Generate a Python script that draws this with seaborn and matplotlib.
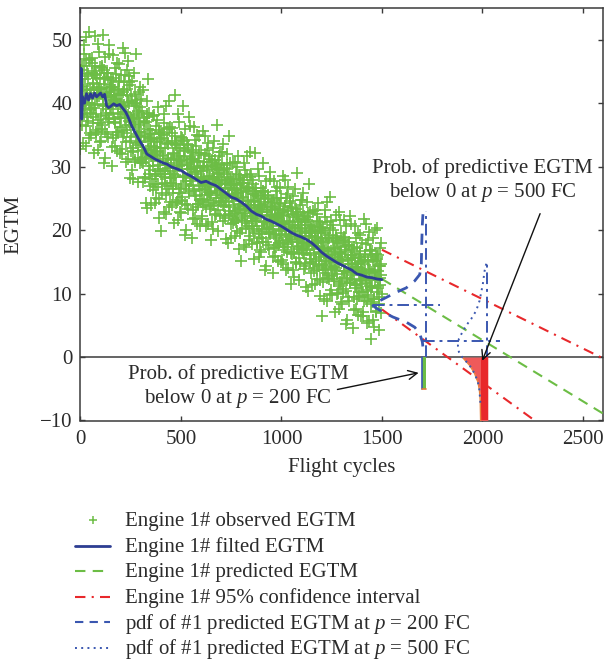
import numpy as np
import pandas as pd
import matplotlib
matplotlib.use("Agg")
import matplotlib.pyplot as plt
import seaborn as sns
from matplotlib.lines import Line2D

# ---------------- data ----------------
obs_x = [
    2, 5, 9, 12, 15, 19, 22, 25, 29, 32, 35, 39, 42, 45, 48,
    52, 55, 59, 62, 65, 69, 72, 75, 79, 82, 85, 89, 92, 95, 98,
    102, 105, 109, 112, 115, 119, 122, 125, 129, 132, 135, 139, 142, 145, 148,
    152, 155, 159, 162, 165, 169, 172, 175, 179, 182, 185, 189, 192, 195, 198,
    248, 245, 242, 239, 235, 232, 229, 225, 222, 219, 215, 212, 209, 205, 202,
    298, 295, 292, 289, 285, 282, 279, 275, 272, 269, 265, 262, 259, 255, 252,
    348, 345, 342, 339, 335, 332, 329, 325, 322, 319, 315, 312, 309, 305, 302,
    398, 395, 392, 389, 385, 382, 379, 375, 372, 369, 365, 362, 359, 355, 352,
    402, 405, 409, 412, 415, 419, 422, 425, 429, 432, 435, 439, 442, 445, 448,
    452, 455, 459, 462, 465, 469, 472, 475, 479, 482, 485, 489, 492, 495, 498,
    502, 505, 509, 512, 515, 519, 522, 525, 529, 532, 535, 539, 542, 545, 548,
    552, 555, 559, 562, 565, 569, 572, 575, 579, 582, 585, 589, 592, 595, 598,
    648, 645, 642, 639, 635, 632, 629, 625, 622, 619, 615, 612, 609, 605, 602,
    698, 695, 692, 689, 685, 682, 679, 675, 672, 669, 665, 662, 659, 655, 652,
    748, 745, 742, 739, 735, 732, 729, 725, 722, 719, 715, 712, 709, 705, 702,
    798, 795, 792, 789, 785, 782, 779, 775, 772, 769, 765, 762, 759, 755, 752,
    802, 805, 809, 812, 815, 819, 822, 825, 829, 832, 835, 839, 842, 845, 848,
    852, 855, 859, 862, 865, 869, 872, 875, 879, 882, 885, 889, 892, 895, 898,
    902, 905, 909, 912, 915, 919, 922, 925, 929, 932, 935, 939, 942, 945, 948,
    952, 955, 959, 962, 965, 969, 972, 975, 979, 982, 985, 989, 992, 995, 998,
    1048, 1045, 1042, 1039, 1035, 1032, 1029, 1025, 1022, 1019, 1015, 1012, 1009, 1005, 1002,
    1098, 1095, 1092, 1089, 1085, 1082, 1079, 1075, 1072, 1069, 1065, 1062, 1059, 1055, 1052,
    1148, 1145, 1142, 1139, 1135, 1132, 1129, 1125, 1122, 1119, 1115, 1112, 1109, 1105, 1102,
    1198, 1195, 1192, 1189, 1185, 1182, 1179, 1175, 1172, 1169, 1165, 1162, 1159, 1155, 1152,
    1202, 1205, 1209, 1212, 1215, 1219, 1222, 1225, 1229, 1232, 1235, 1239, 1242, 1245, 1248,
    1252, 1255, 1259, 1262, 1265, 1269, 1272, 1275, 1279, 1282, 1285, 1289, 1292, 1295, 1298,
    1302, 1305, 1309, 1312, 1315, 1319, 1322, 1325, 1329, 1332, 1335, 1339, 1342, 1345, 1348,
    1352, 1355, 1359, 1362, 1365, 1369, 1372, 1375, 1379, 1382, 1385, 1389, 1392, 1395, 1398,
    1448, 1445, 1442, 1439, 1435, 1432, 1429, 1425, 1422, 1419, 1415, 1412, 1409, 1405, 1402,
    1498, 1495, 1492, 1489, 1485, 1482, 1479, 1475, 1472, 1469, 1465, 1462, 1459, 1455, 1452,
    47, 44, 40, 37, 34, 30, 27, 24, 20, 17, 14, 10, 7, 3, 0,
    97, 94, 90, 87, 84, 80, 77, 74, 70, 67, 64, 60, 57, 53, 50,
    147, 144, 140, 137, 134, 130, 127, 124, 120, 117, 114, 110, 107, 103, 100,
    197, 194, 190, 187, 184, 180, 177, 174, 170, 167, 164, 160, 157, 153, 150,
    200, 203, 207, 210, 214, 217, 220, 224, 227, 230, 234, 237, 240, 244, 247,
    250, 253, 257, 260, 264, 267, 270, 274, 277, 280, 284, 287, 290, 294, 297,
    300, 303, 307, 310, 314, 317, 320, 324, 327, 330, 334, 337, 340, 344, 347,
    350, 353, 357, 360, 364, 367, 370, 374, 377, 380, 384, 387, 390, 394, 397,
    447, 444, 440, 437, 434, 430, 427, 424, 420, 417, 414, 410, 407, 403, 400,
    497, 494, 490, 487, 484, 480, 477, 474, 470, 467, 464, 460, 457, 453, 450,
    547, 544, 540, 537, 534, 530, 527, 524, 520, 517, 514, 510, 507, 503, 500,
    597, 594, 590, 587, 584, 580, 577, 574, 570, 567, 564, 560, 557, 553, 550,
    600, 603, 607, 610, 614, 617, 620, 624, 627, 630, 634, 637, 640, 644, 647,
    650, 653, 657, 660, 664, 667, 670, 674, 677, 680, 684, 687, 690, 694, 697,
    700, 703, 707, 710, 714, 717, 720, 724, 727, 730, 734, 737, 740, 744, 747,
    750, 753, 757, 760, 764, 767, 770, 774, 777, 780, 784, 787, 790, 794, 797,
    847, 844, 840, 837, 834, 830, 827, 824, 820, 817, 814, 810, 807, 803, 800,
    897, 894, 890, 887, 884, 880, 877, 874, 870, 867, 864, 860, 857, 853, 850,
    947, 944, 940, 937, 934, 930, 927, 924, 920, 917, 914, 910, 907, 903, 900,
    997, 994, 990, 987, 984, 980, 977, 974, 970, 967, 964, 960, 957, 953, 950,
    1000, 1003, 1007, 1010, 1014, 1017, 1020, 1024, 1027, 1030, 1034, 1037, 1040, 1044, 1047,
    1050, 1053, 1057, 1060, 1064, 1067, 1070, 1074, 1077, 1080, 1084, 1087, 1090, 1094, 1097,
    1100, 1103, 1107, 1110, 1114, 1117, 1120, 1124, 1127, 1130, 1134, 1137, 1140, 1144, 1147,
    1150, 1153, 1157, 1160, 1164, 1167, 1170, 1174, 1177, 1180, 1184, 1187, 1190, 1194, 1197,
    1247, 1244, 1240, 1237, 1234, 1230, 1227, 1224, 1220, 1217, 1214, 1210, 1207, 1203, 1200,
    1297, 1294, 1290, 1287, 1284, 1280, 1277, 1274, 1270, 1267, 1264, 1260, 1257, 1253, 1250,
    1347, 1344, 1340, 1337, 1334, 1330, 1327, 1324, 1320, 1317, 1314, 1310, 1307, 1303, 1300,
    1397, 1394, 1390, 1387, 1384, 1380, 1377, 1374, 1370, 1367, 1364, 1360, 1357, 1353, 1350,
    1400, 1403, 1407, 1410, 1414, 1417, 1420, 1424, 1427, 1430, 1434, 1437, 1440, 1444, 1447,
    1450, 1453, 1457, 1460, 1464, 1467, 1470, 1474, 1477, 1480, 1484, 1487, 1490, 1494, 1497,
    1, 6, 11, 16, 21, 26, 31, 36, 41, 46,
    51, 56, 61, 66, 71, 76, 81, 86, 91, 96,
    146, 141, 136, 131, 126, 121, 116, 111, 106, 101,
    196, 191, 186, 181, 176, 171, 166, 161, 156, 151,
    201, 206, 211, 216, 221, 226, 231, 236, 241, 246,
    251, 256, 261, 266, 271, 276, 281, 286, 291, 296,
    346, 341, 336, 331, 326, 321, 316, 311, 306, 301,
    396, 391, 386, 381, 376, 371, 366, 361, 356, 351,
    401, 406, 411, 416, 421, 426, 431, 436, 441, 446,
    451, 456, 461, 466, 471, 476, 481, 486, 491, 496,
    546, 541, 536, 531, 526, 521, 516, 511, 506, 501,
    596, 591, 586, 581, 576, 571, 566, 561, 556, 551,
    601, 606, 611, 616, 621, 626, 631, 636, 641, 646,
    651, 656, 661, 666, 671, 676, 681, 686, 691, 696,
    746, 741, 736, 731, 726, 721, 716, 711, 706, 701,
    796, 791, 786, 781, 776, 771, 766, 761, 756, 751,
    801, 806, 811, 816, 821, 826, 831, 836, 841, 846,
    851, 856, 861, 866, 871, 876, 881, 886, 891, 896,
    946, 941, 936, 931, 926, 921, 916, 911, 906, 901,
    996, 991, 986, 981, 976, 971, 966, 961, 956, 951,
    1001, 1006, 1011, 1016, 1021, 1026, 1031, 1036, 1041, 1046,
    1051, 1056, 1061, 1066, 1071, 1076, 1081, 1086, 1091, 1096,
    1146, 1141, 1136, 1131, 1126, 1121, 1116, 1111, 1106, 1101,
    1196, 1191, 1186, 1181, 1176, 1171, 1166, 1161, 1156, 1151,
    1201, 1206, 1211, 1216, 1221, 1226, 1231, 1236, 1241, 1246,
    1251, 1256, 1261, 1266, 1271, 1276, 1281, 1286, 1291, 1296,
    1346, 1341, 1336, 1331, 1326, 1321, 1316, 1311, 1306, 1301,
    1396, 1391, 1386, 1381, 1376, 1371, 1366, 1361, 1356, 1351,
    1401, 1406, 1411, 1416, 1421, 1426, 1431, 1436, 1441, 1446,
    1451, 1456, 1461, 1466, 1471, 1476, 1481, 1486, 1491, 1496,
]
obs_y = [
    45.3, 36.6, 42.5, 39.7, 49.1, 38.3, 43.8, 33.3, 46.9, 41.1, 44.6, 37.2, 51.2, 35.3, 42.0,
    38.4, 47.1, 39.9, 43.0, 32.1, 45.0, 39.7, 44.4, 35.5, 41.2, 49.3, 37.4, 42.4, 33.9, 45.7,
    42.2, 36.5, 45.5, 39.8, 43.0, 30.5, 47.3, 38.2, 41.6, 35.2, 44.2, 37.5, 49.1, 39.5, 42.4,
    39.1, 42.6, 33.1, 44.0, 37.5, 40.5, 45.6, 35.0, 41.3, 32.4, 42.3, 38.3, 46.2, 36.2, 39.8,
    42.8, 34.1, 40.0, 37.2, 46.6, 35.8, 41.3, 30.8, 44.4, 38.6, 42.1, 34.7, 48.7, 32.8, 39.5,
    33.9, 42.6, 35.4, 38.5, 27.6, 40.5, 35.2, 39.9, 31.0, 36.7, 44.8, 32.9, 37.9, 29.4, 41.2,
    35.2, 29.5, 38.5, 32.8, 36.0, 23.5, 40.3, 31.2, 34.6, 28.2, 37.2, 30.5, 42.1, 32.5, 35.4,
    30.9, 34.4, 24.9, 35.8, 29.3, 32.3, 37.4, 26.8, 33.1, 24.2, 34.1, 30.1, 38.0, 28.0, 31.6,
    34.5, 25.8, 31.7, 28.9, 38.3, 27.5, 33.0, 22.5, 36.1, 30.3, 33.8, 26.4, 40.4, 24.5, 31.2,
    27.4, 36.1, 28.9, 32.0, 21.1, 34.0, 28.7, 33.4, 24.5, 30.2, 38.3, 26.4, 31.4, 22.9, 34.7,
    30.9, 25.2, 34.2, 28.5, 31.7, 19.2, 36.0, 26.9, 30.3, 23.9, 32.9, 26.2, 37.8, 28.2, 31.1,
    27.7, 31.2, 21.7, 32.6, 26.1, 29.1, 34.2, 23.6, 29.9, 21.0, 30.9, 26.9, 34.8, 24.8, 28.4,
    30.7, 23.4, 28.3, 26.0, 33.8, 24.8, 29.4, 20.7, 32.0, 27.2, 30.1, 23.9, 35.6, 22.3, 27.9,
    25.0, 32.3, 26.3, 28.9, 19.8, 30.5, 26.1, 30.0, 22.6, 27.4, 34.1, 24.2, 28.4, 21.3, 31.1,
    27.7, 23.0, 30.5, 25.7, 28.4, 18.0, 32.0, 24.4, 27.2, 21.9, 29.4, 23.8, 33.5, 25.5, 27.9,
    24.6, 27.5, 19.6, 28.7, 23.3, 25.8, 30.0, 21.2, 26.4, 19.0, 27.3, 23.9, 30.5, 22.2, 25.2,
    27.4, 20.1, 25.0, 22.7, 30.5, 21.5, 26.1, 17.4, 28.7, 23.9, 26.8, 20.6, 32.3, 19.0, 24.6,
    20.6, 27.9, 21.9, 24.5, 15.4, 26.1, 21.7, 25.6, 18.2, 23.0, 29.7, 19.8, 24.0, 16.9, 26.7,
    23.4, 18.7, 26.2, 21.4, 24.1, 13.7, 27.7, 20.1, 22.9, 17.6, 25.1, 19.5, 29.2, 21.2, 23.6,
    20.7, 23.6, 15.7, 24.8, 19.4, 21.9, 26.1, 17.3, 22.5, 15.1, 23.4, 20.0, 26.6, 18.3, 21.3,
    23.7, 16.4, 21.3, 19.0, 26.8, 17.8, 22.4, 13.7, 25.0, 20.2, 23.1, 16.9, 28.6, 15.3, 20.9,
    17.4, 24.7, 18.7, 21.3, 12.2, 22.9, 18.5, 22.4, 15.0, 19.8, 26.5, 16.6, 20.8, 13.7, 23.5,
    20.1, 15.4, 22.9, 18.1, 20.8, 10.4, 24.4, 16.8, 19.6, 14.3, 21.8, 16.2, 25.9, 17.9, 20.3,
    17.1, 20.0, 12.1, 21.2, 15.8, 18.3, 22.5, 13.7, 18.9, 11.5, 19.8, 16.4, 23.0, 14.7, 17.7,
    19.8, 11.8, 17.2, 14.7, 23.2, 13.3, 18.4, 8.8, 21.3, 16.0, 19.2, 12.3, 25.2, 10.6, 16.7,
    12.8, 20.8, 14.2, 17.1, 7.1, 18.8, 14.0, 18.3, 10.1, 15.4, 22.8, 11.9, 16.5, 8.7, 19.5,
    15.8, 10.7, 18.9, 13.6, 16.6, 5.2, 20.6, 12.2, 15.3, 9.5, 17.7, 11.6, 22.2, 13.4, 16.1,
    12.9, 16.0, 7.4, 17.4, 11.4, 14.2, 18.8, 9.1, 14.8, 6.7, 15.8, 12.1, 19.3, 10.2, 13.5,
    16.3, 8.3, 13.7, 11.2, 19.7, 9.8, 14.9, 5.3, 17.8, 12.5, 15.7, 8.8, 21.7, 7.1, 13.2,
    10.0, 18.0, 11.4, 14.3, 4.3, 16.0, 11.2, 15.5, 7.3, 12.6, 20.0, 9.1, 13.7, 5.9, 16.7,
    47.0, 40.1, 34.5, 44.3, 42.2, 37.8, 50.4, 41.0, 39.1, 47.7, 33.7, 42.7, 45.9, 39.6, 32.8,
    36.9, 42.1, 48.0, 32.6, 44.0, 40.8, 35.2, 44.6, 50.6, 39.3, 43.2, 37.9, 46.3, 35.0, 41.6,
    40.9, 47.7, 37.7, 34.6, 44.7, 41.8, 38.5, 31.3, 44.0, 45.3, 39.7, 50.8, 35.9, 41.5, 34.0,
    32.1, 41.5, 43.3, 39.6, 35.5, 46.4, 40.2, 36.8, 33.3, 42.1, 47.6, 38.5, 30.1, 43.7, 41.1,
    44.5, 37.6, 32.0, 41.8, 39.7, 35.3, 47.9, 38.5, 36.6, 45.2, 31.2, 40.2, 43.4, 37.1, 28.2,
    32.4, 37.6, 43.5, 28.1, 39.5, 36.3, 30.7, 40.1, 47.8, 34.8, 38.7, 33.4, 41.8, 30.5, 37.1,
    33.9, 40.7, 30.7, 27.6, 37.7, 34.8, 31.5, 24.3, 37.0, 38.3, 32.7, 43.8, 28.9, 34.5, 27.0,
    23.9, 33.3, 35.1, 31.4, 27.3, 38.2, 32.0, 28.6, 25.1, 33.9, 39.4, 30.3, 21.9, 35.5, 32.9,
    36.2, 29.3, 23.7, 33.5, 31.4, 27.0, 39.6, 30.2, 28.3, 36.9, 22.9, 31.9, 35.1, 28.8, 19.9,
    25.9, 31.1, 37.0, 21.6, 33.0, 29.8, 24.2, 33.6, 41.3, 28.3, 32.2, 26.9, 35.3, 24.0, 30.6,
    29.6, 36.4, 26.4, 23.3, 33.4, 30.5, 27.2, 20.0, 32.7, 34.0, 28.4, 39.5, 24.6, 30.2, 22.7,
    20.7, 30.1, 31.9, 28.2, 24.1, 35.0, 28.8, 25.4, 21.9, 30.7, 36.2, 27.1, 18.7, 32.3, 29.7,
    32.1, 26.3, 21.7, 29.8, 28.1, 24.4, 34.9, 27.1, 25.5, 32.7, 21.0, 28.5, 31.2, 25.9, 18.5,
    23.8, 28.1, 33.0, 20.2, 29.7, 27.0, 22.4, 30.2, 36.6, 25.8, 29.0, 24.6, 31.6, 22.2, 27.7,
    26.6, 32.3, 24.0, 21.4, 29.8, 27.4, 24.6, 18.6, 29.2, 30.3, 25.6, 34.9, 22.5, 27.1, 20.9,
    18.8, 26.6, 28.1, 25.0, 21.6, 30.7, 25.5, 22.7, 19.8, 27.1, 31.7, 24.1, 17.1, 28.4, 26.3,
    28.8, 23.0, 18.4, 26.5, 24.8, 21.1, 31.6, 23.8, 22.2, 29.4, 17.7, 25.2, 27.9, 22.6, 15.2,
    19.4, 23.7, 28.6, 15.8, 25.3, 22.6, 18.0, 25.8, 32.2, 21.4, 24.6, 20.2, 27.2, 17.8, 23.3,
    22.3, 28.0, 19.7, 17.1, 25.5, 23.1, 20.3, 14.3, 24.9, 26.0, 21.3, 30.6, 18.2, 22.8, 16.6,
    14.9, 22.7, 24.2, 21.1, 17.7, 26.8, 21.6, 18.8, 15.9, 23.2, 27.8, 20.2, 13.2, 24.5, 22.4,
    25.1, 19.3, 14.7, 22.8, 21.1, 17.4, 27.9, 20.1, 18.5, 25.7, 14.0, 21.5, 24.2, 18.9, 11.5,
    16.2, 20.5, 25.4, 12.6, 22.1, 19.4, 14.8, 22.6, 29.0, 18.2, 21.4, 17.0, 24.0, 14.6, 20.1,
    19.0, 24.7, 16.4, 13.8, 22.2, 19.8, 17.0, 11.0, 21.6, 22.7, 18.0, 27.3, 14.9, 19.5, 13.3,
    11.3, 19.1, 20.6, 17.5, 14.1, 23.2, 18.0, 15.2, 12.3, 19.6, 24.2, 16.6, 9.6, 20.9, 18.8,
    21.4, 15.0, 9.9, 18.8, 17.0, 12.9, 24.4, 15.9, 14.1, 22.0, 9.2, 17.4, 20.4, 14.5, 6.4,
    11.5, 16.2, 21.6, 7.5, 18.0, 15.0, 9.9, 18.5, 22.4, 13.7, 17.2, 12.3, 20.0, 9.7, 15.8,
    14.6, 20.9, 11.8, 8.9, 18.2, 15.5, 12.4, 5.8, 17.5, 18.7, 13.5, 21.6, 10.1, 15.2, 8.4,
    6.5, 15.1, 16.7, 13.3, 9.6, 19.6, 13.8, 10.8, 7.6, 15.6, 20.7, 12.3, 4.6, 17.0, 14.7,
    17.9, 11.5, 6.4, 15.3, 13.5, 9.4, 20.9, 12.4, 10.6, 18.5, 5.7, 13.9, 16.9, 11.0, 2.9,
    8.7, 13.4, 18.8, 4.7, 15.2, 12.2, 7.1, 15.7, 20.3, 10.9, 14.4, 9.5, 17.2, 6.9, 13.0,
    43.8, 38.1, 42.0, 45.8, 40.1, 36.4, 44.8, 40.6, 46.8, 39.0,
    39.2, 44.8, 36.8, 42.0, 45.9, 38.3, 42.6, 35.8, 41.1, 43.9,
    42.8, 37.1, 41.0, 44.8, 39.1, 35.4, 43.8, 39.6, 45.8, 38.0,
    37.9, 43.5, 35.5, 40.7, 44.6, 37.0, 41.3, 34.5, 39.8, 42.6,
    41.3, 35.6, 39.5, 43.3, 37.6, 33.9, 42.3, 38.1, 44.3, 36.5,
    34.7, 40.3, 32.3, 37.5, 41.4, 33.8, 38.1, 31.3, 36.6, 39.4,
    35.8, 30.1, 34.0, 37.8, 32.1, 28.4, 36.8, 32.6, 38.8, 31.0,
    29.7, 35.3, 27.3, 32.5, 36.4, 28.8, 33.1, 26.3, 31.6, 34.4,
    33.0, 27.3, 31.2, 35.0, 29.3, 25.6, 34.0, 29.8, 36.0, 28.2,
    28.2, 33.8, 25.8, 31.0, 34.9, 27.3, 31.6, 24.8, 30.1, 32.9,
    31.5, 25.8, 29.7, 33.5, 27.8, 24.1, 32.5, 28.3, 34.5, 26.7,
    26.5, 32.1, 24.1, 29.3, 33.2, 25.6, 29.9, 23.1, 28.4, 31.2,
    29.3, 24.9, 27.9, 30.8, 26.4, 23.6, 30.0, 26.8, 31.6, 25.6,
    25.8, 30.1, 24.0, 28.0, 31.0, 25.1, 28.4, 23.2, 27.3, 29.4,
    28.1, 23.7, 26.7, 29.6, 25.2, 22.4, 28.8, 25.6, 30.4, 24.4,
    23.7, 28.0, 21.9, 25.9, 28.9, 23.0, 26.3, 21.1, 25.2, 27.3,
    26.0, 21.6, 24.6, 27.5, 23.1, 20.3, 26.7, 23.5, 28.3, 22.3,
    21.4, 25.7, 19.6, 23.6, 26.6, 20.7, 24.0, 18.8, 22.9, 25.0,
    23.8, 19.4, 22.4, 25.3, 20.9, 18.1, 24.5, 21.3, 26.1, 20.1,
    19.8, 24.1, 18.0, 22.0, 25.0, 19.1, 22.4, 17.2, 21.3, 23.4,
    22.3, 17.9, 20.9, 23.8, 19.4, 16.6, 23.0, 19.8, 24.6, 18.6,
    18.2, 22.5, 16.4, 20.4, 23.4, 17.5, 20.8, 15.6, 19.7, 21.8,
    20.5, 16.1, 19.1, 22.0, 17.6, 14.8, 21.2, 18.0, 22.8, 16.8,
    16.2, 20.5, 14.4, 18.4, 21.4, 15.5, 18.8, 13.6, 17.7, 19.8,
    18.1, 13.7, 16.7, 19.6, 15.2, 12.4, 18.8, 15.6, 20.4, 14.4,
    13.8, 18.1, 12.0, 16.0, 19.0, 13.1, 16.4, 11.2, 15.3, 17.4,
    16.1, 11.7, 14.7, 17.6, 13.2, 10.4, 16.8, 13.6, 18.4, 12.4,
    12.0, 16.3, 10.2, 14.2, 17.2, 11.3, 14.6, 9.4, 13.5, 15.6,
    14.6, 10.2, 13.2, 16.1, 11.7, 8.9, 15.3, 12.1, 16.9, 10.9,
    11.0, 15.3, 9.2, 13.2, 16.2, 10.3, 13.6, 8.4, 12.5, 14.6,
]

filt_x = [0, 3, 6, 10, 20, 30, 40, 50, 60, 70, 80, 90, 100, 110, 120, 130, 140, 150,
          165, 180, 195, 210, 225, 240, 255, 270, 285, 300, 315, 330, 350, 370, 390,
          410, 430, 450, 475, 500, 525, 550, 575, 600, 625, 650, 675, 700, 725, 750,
          775, 800, 825, 850, 875, 900, 925, 950, 975, 1000, 1025, 1050, 1075, 1100,
          1125, 1150, 1175, 1200, 1225, 1250, 1275, 1300, 1325, 1350, 1375, 1400,
          1425, 1450, 1475, 1500]
filt_y = [38.0, 45.5, 37.5, 41.0, 40.0, 41.5, 40.5, 41.5, 40.8, 41.6, 41.0, 41.3, 41.6,
          41.0, 41.4, 39.6, 39.3, 39.5, 39.9, 39.6, 39.8, 39.2, 38.6, 37.6, 36.4, 35.5,
          34.6, 33.8, 33.0, 32.0, 31.6, 31.2, 30.9, 30.6, 30.4, 30.0, 29.7, 29.4, 28.9,
          28.5, 28.0, 27.5, 27.7, 27.3, 27.0, 26.4, 25.8, 25.2, 24.9, 24.4, 23.8, 23.0,
          22.5, 22.2, 21.7, 21.4, 21.0, 20.6, 20.1, 19.6, 19.2, 18.9, 18.5, 18.0, 17.3,
          16.5, 15.9, 15.4, 14.9, 14.5, 14.1, 13.7, 13.1, 12.9, 12.6, 12.5, 12.3, 12.2]

pred_x = [1500, 2600]
pred_y = [12.3, -8.9]
ci_up_x = [1500, 2600]
ci_up_y = [16.9, -0.2]
ci_lo_x = [1500, 2260]
ci_lo_y = [7.5, -10.0]

# pdf at p = 200 FC (curve drawn sideways from baseline FC = 1721)
pdf200_fc = [1704, 1701, 1698, 1696, 1688, 1663, 1621, 1571, 1522, 1472, 1455, 1472,
             1505, 1555, 1621, 1663, 1688, 1701, 1706]
pdf200_egtm = [22.5, 20.9, 17.8, 14.7, 13.0, 12.0, 10.9, 10.2, 9.4, 8.6, 8.1, 7.7,
               7.1, 6.3, 5.5, 4.7, 3.7, 2.4, 1.0]
pdf200_base_fc = 1721
pdf200_vert = [0.0, 23.0]
pdf200_mean = 8.2
pdf200_hspan = [1455, 1790]
pdf200_tail_fc = [1699, 1721]
pdf200_tail_egtm = [-5.0, 0.0]

# pdf at p = 500 FC (baseline FC = 2022)
pdf500_fc = [2019, 2011, 2002, 1986, 1969, 1944, 1920, 1900, 1883, 1878, 1883, 1899,
             1936, 1961, 1977, 1985, 1990]
pdf500_egtm = [14.7, 13.6, 11.5, 8.9, 7.3, 6.0, 5.0, 3.9, 2.9, 1.8, 0.8, 0.0,
               -1.3, -2.6, -3.9, -5.2, -7.3]
pdf500_base_fc = 2022
pdf500_vert = [0.0, 14.7]
pdf500_mean = 2.45
pdf500_hspan = [1704, 2087]
tail500_egtm = [0.0, -1.3, -2.6, -3.9, -5.2, -6.8, -10.0]
tail500_fc = [1899, 1936, 1961, 1977, 1985, 1989, 1991]
bar500_fc = [1991, 2027]

legend_labels = [
    "Engine 1# observed EGTM",
    "Engine 1# filted EGTM",
    "Engine 1# predicted EGTM",
    "Engine 1# 95% confidence interval",
    "pdf of #1 predicted EGTM at $p$ = 200 FC",
    "pdf of #1 predicted EGTM at $p$ = 500 FC",
]

# ---------------- style ----------------
sns.set_theme(style="ticks")
plt.rcParams['font.family'] = ['Liberation Serif', 'DejaVu Serif']
plt.rcParams['mathtext.fontset'] = 'custom'
plt.rcParams['mathtext.rm'] = 'Liberation Serif'
plt.rcParams['mathtext.it'] = 'Liberation Serif:italic'
plt.rcParams['axes.unicode_minus'] = True

TXT = '#2b2b2b'
GREEN = '#6cbd45'
BLUE_F = '#2d3d92'
BLUE_P = '#3a57b0'
RED = '#e8282b'
FS = 15
W, H = 604, 662

fig = plt.figure(figsize=(W / 100, H / 100), dpi=100)
ax = fig.add_axes([80.5 / W, 1 - 420.5 / H, 522.5 / W, 412.5 / H])

obs = pd.DataFrame({"fc": obs_x, "egtm": obs_y})
sns.scatterplot(data=obs, x="fc", y="egtm", marker="+", s=70, color=GREEN,
                linewidth=1.2, ax=ax, zorder=2)
filt = pd.DataFrame({"fc": filt_x, "egtm": filt_y})
sns.lineplot(data=filt, x="fc", y="egtm", color=BLUE_F, lw=2.0, ax=ax,
             estimator=None, zorder=4)

DASH_G = (0, (5, 3.5))
DASHDOT_R = (0, (5, 3, 1, 3))
DASH_B = (0, (4, 3))
DOT_B = (0, (1, 2.2))
ax.plot(pred_x, pred_y, color=GREEN, lw=1.5, ls=DASH_G, zorder=3)
ax.plot(ci_up_x, ci_up_y, color=RED, lw=1.5, ls=DASHDOT_R, zorder=3)
ax.plot(ci_lo_x, ci_lo_y, color=RED, lw=1.5, ls=DASHDOT_R, zorder=3)

dashdot = (0, (6, 2.5, 1.5, 2.5))
# pdf 200
ax.plot([pdf200_base_fc, pdf200_base_fc], pdf200_vert, color=BLUE_P, lw=1.4, ls=dashdot, zorder=5)
ax.plot(pdf200_hspan, [pdf200_mean, pdf200_mean], color=BLUE_P, lw=1.4, ls=dashdot, zorder=5)
ax.plot(pdf200_fc, pdf200_egtm, color=BLUE_P, lw=2.0, ls=DASH_B, zorder=5)
ax.fill_betweenx(pdf200_tail_egtm, pdf200_tail_fc[0], pdf200_tail_fc[1], color=GREEN, lw=0, zorder=5)
ax.plot([pdf200_tail_fc[0], pdf200_tail_fc[0]], pdf200_tail_egtm, color=BLUE_P, lw=1.2, zorder=6)
ax.plot([pdf200_tail_fc[0], pdf200_tail_fc[1]], [-5.0, -5.0], color='#e07a3a', lw=1.2, zorder=6)

# pdf 500
ax.plot([pdf500_base_fc, pdf500_base_fc], pdf500_vert, color=BLUE_P, lw=1.4, ls=dashdot, zorder=5)
ax.plot(pdf500_hspan, [pdf500_mean, pdf500_mean], color=BLUE_P, lw=1.4, ls=dashdot, zorder=5)
ax.fill_betweenx(tail500_egtm, tail500_fc, bar500_fc[1], color='#ef5a5a', lw=0, zorder=5)
ax.fill_betweenx([-10, 0], bar500_fc[0], bar500_fc[1], color=RED, lw=0, zorder=5)
ax.plot(tail500_fc, tail500_egtm, color='#e8803c', lw=1.0, zorder=6)
ax.plot(pdf500_fc, pdf500_egtm, color=BLUE_P, lw=1.4, ls=DOT_B, zorder=6)

ax.axhline(0, color='#3a3a3a', lw=1.1, zorder=1)

# annotations
ax.text(2000, 27.7, "Prob. of predictive EGTM\nbelow 0 at $p$ = 500 FC", ha='center', va='center',
        fontsize=FS, color=TXT, multialignment='center', zorder=7)
ax.annotate("", xy=(1994, -1.0), xytext=(2292, 23.0),
            arrowprops=dict(arrowstyle='->', color='#111111', lw=1.0, mutation_scale=16), zorder=7)
ax.text(785, -4.7, "Prob. of predictive EGTM\nbelow 0 at $p$ = 200 FC", ha='center', va='center',
        fontsize=FS, color=TXT, multialignment='center', zorder=7)
ax.annotate("", xy=(1696, -2.4), xytext=(1265, -5.2),
            arrowprops=dict(arrowstyle='->', color='#111111', lw=1.0, mutation_scale=16), zorder=7)

ax.set_xlim(0, 2600)
ax.set_ylim(-10, 55)
ax.set_xticks([0, 500, 1000, 1500, 2000, 2500])
ax.set_yticks([-10, 0, 10, 20, 30, 40, 50])
ax.tick_params(direction='in', top=True, right=True, length=3.5, width=1, colors='#3a3a3a',
               labelcolor=TXT, labelsize=FS)
ax.tick_params(axis='x', pad=7)
ax.tick_params(axis='y', pad=6)
for sp in ax.spines.values():
    sp.set_color('#3a3a3a')
    sp.set_linewidth(1.1)

ax.set_xlabel("Flight cycles", fontsize=FS, color=TXT)
ax.set_ylabel("EGTM", fontsize=FS, color=TXT)
ax.xaxis.set_label_coords(0.5, -0.091)
ax.yaxis.set_label_coords(-0.110, 0.476)
if ax.get_legend() is not None:
    ax.get_legend().remove()

# legend (below the axes, no frame): fixed rows
legend_handles = [
    dict(ls='none', marker='+', color=GREEN, markersize=5.5, markeredgewidth=1.1),
    dict(color=BLUE_F, lw=2.0),
    dict(color=GREEN, lw=1.5, ls=DASH_G),
    dict(color=RED, lw=1.5, ls=DASHDOT_R),
    dict(color=BLUE_P, lw=1.5, ls=DASH_B),
    dict(color=BLUE_P, lw=1.4, ls=DOT_B),
]
row_baselines = [526, 552, 577.5, 603, 628.5, 654]
for lab, hk, base in zip(legend_labels, legend_handles, row_baselines):
    yc = 1 - (base - 6.5) / H
    if hk.get('marker'):
        fig.add_artist(Line2D([92.7 / W], [yc], transform=fig.transFigure, **hk))
    else:
        fig.add_artist(Line2D([75 / W, 110 / W], [yc, yc], transform=fig.transFigure, **hk))
    fig.text(125 / W, 1 - base / H, lab, ha='left', va='baseline', fontsize=FS, color=TXT)

fig.savefig("out.png", dpi=100)
